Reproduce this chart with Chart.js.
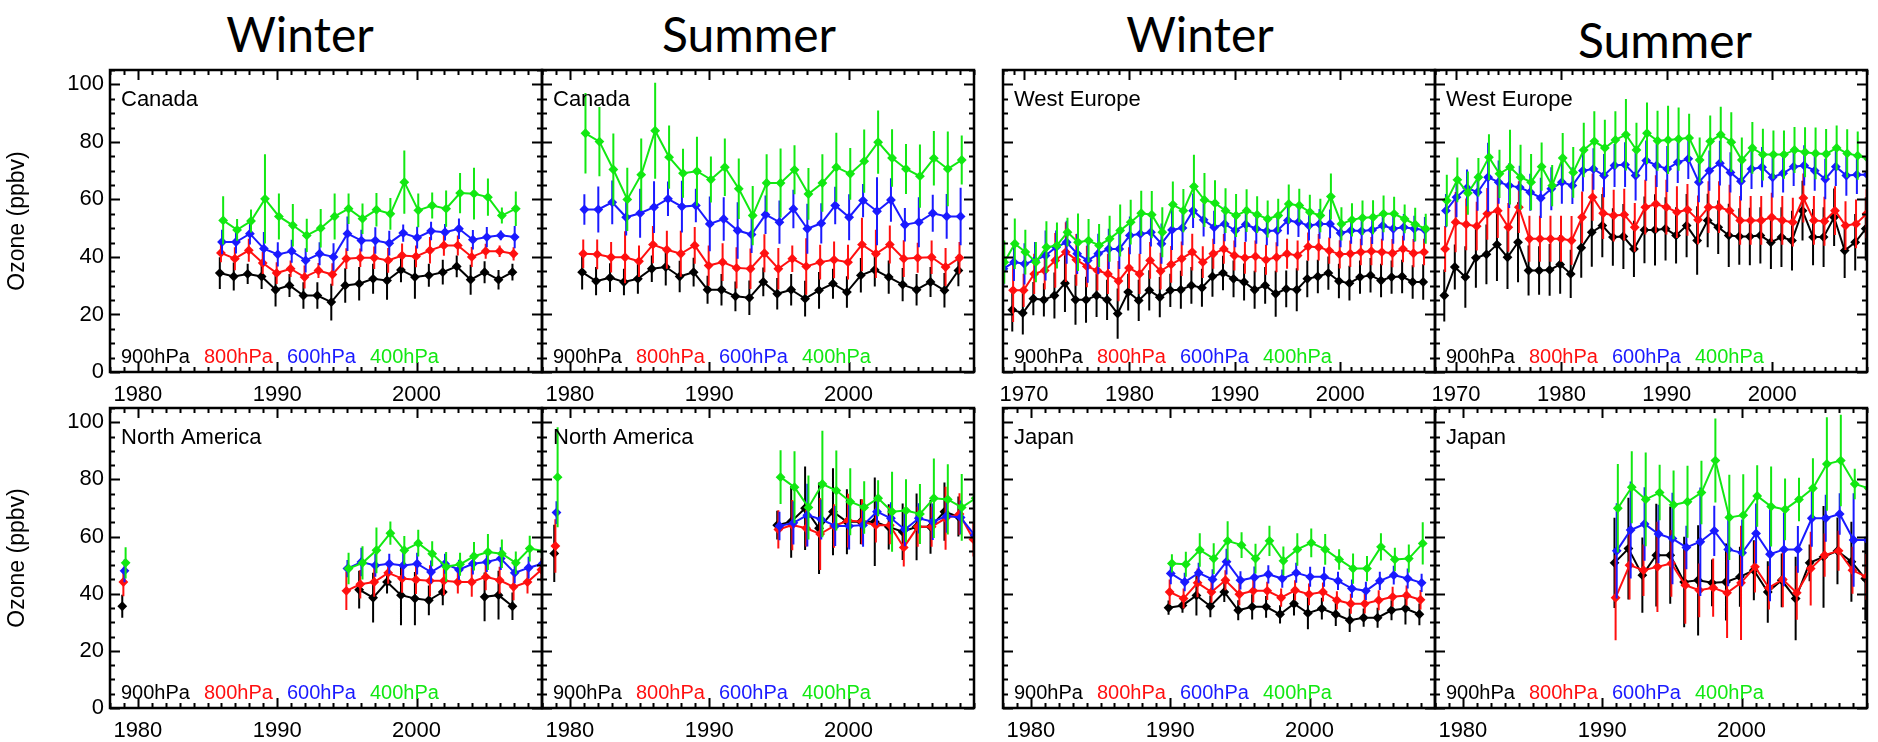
<!DOCTYPE html>
<html>
<head>
<meta charset="utf-8">
<title>Ozone trends by pressure level</title>
<script src="https://cdn.jsdelivr.net/npm/chart.js@4.4.0/dist/chart.umd.min.js"></script>
<style>
  html, body { margin: 0; padding: 0; background: #fff; }
  body { width: 1878px; height: 742px; position: relative; overflow: hidden; }
  canvas.panel { position: absolute; }
  .season { position: absolute; font-family: Lato, "Open Sans", sans-serif; font-size: 48px; line-height: 1;
            color: #000; transform: translateX(-50%); white-space: nowrap; }
</style>
</head>
<body>
<div class="season" style="left:300px; top:10px">Winter</div>
<div class="season" style="left:749px; top:10px">Summer</div>
<div class="season" style="left:1200px; top:10px">Winter</div>
<div class="season" style="left:1665px; top:16px">Summer</div>
<script>
// pressure levels, one line each
const levelNames = ['900hPa', '800hPa', '600hPa', '400hPa'];
const levelColors = ['#000000', '#ff1010', '#1a1aff', '#12e812'];

// ---- Canada, winter ----
const yearsCanadaWinter = [1986, 1987, 1988, 1989, 1990, 1991, 1992, 1993, 1994, 1995, 1996, 1997, 1998, 1999, 2000, 2001, 2002, 2003, 2004, 2005, 2006, 2007];
const canadaWinter900 = [34.4, 33.2, 34.1, 33.2, 28.6, 30.1, 26.6, 26.6, 24.3, 30.1, 30.7, 32.4, 31.8, 35.5, 33.0, 33.6, 34.7, 36.7, 32.1, 34.7, 32.1, 34.7];
const canadaWinter900Err = [5.5, 4.9, 3.5, 4.3, 5.8, 4.0, 4.6, 4.6, 6.4, 6.0, 5.8, 5.2, 6.7, 4.3, 7.5, 4.0, 4.3, 3.8, 5.2, 3.8, 3.4, 2.9];
const canadaWinter800 = [41.4, 39.4, 42.3, 37.9, 34.4, 35.9, 33.0, 35.3, 33.9, 39.4, 39.7, 39.7, 38.8, 40.5, 40.2, 42.3, 44.0, 44.0, 40.0, 42.0, 42.0, 41.1];
const canadaWinter800Err = [3.2, 4.0, 4.0, 3.8, 3.8, 2.9, 4.0, 2.6, 3.9, 3.6, 3.2, 3.9, 4.3, 4.2, 3.8, 4.6, 3.6, 3.5, 3.5, 2.6, 2.0, 2.3];
const canadaWinter600 = [45.2, 45.2, 48.1, 42.9, 40.9, 42.0, 38.8, 41.1, 40.0, 48.1, 45.7, 45.7, 44.8, 48.3, 46.7, 49.0, 48.6, 49.8, 46.0, 46.9, 47.5, 46.9];
const canadaWinter600Err = [4.3, 4.0, 3.8, 5.8, 4.2, 4.0, 4.2, 4.0, 4.8, 6.0, 3.8, 4.6, 4.3, 3.0, 3.8, 3.2, 2.9, 3.6, 3.4, 3.5, 1.7, 3.9];
const canadaWinter400 = [52.7, 49.4, 52.5, 60.2, 54.1, 51.0, 47.5, 50.0, 54.1, 56.8, 53.3, 56.4, 55.0, 66.0, 56.2, 57.9, 56.8, 62.2, 62.0, 60.8, 54.4, 56.8];
const canadaWinter400Err = [8.4, 3.8, 4.0, 15.5, 8.0, 7.4, 5.8, 6.7, 8.0, 5.3, 5.3, 5.8, 5.5, 11.0, 5.9, 4.5, 6.3, 7.0, 9.0, 6.5, 2.8, 6.0];

// ---- Canada, summer ----
const yearsCanadaSummer = [1981, 1982, 1983, 1984, 1985, 1986, 1987, 1988, 1989, 1990, 1991, 1992, 1993, 1994, 1995, 1996, 1997, 1998, 1999, 2000, 2001, 2002, 2003, 2004, 2005, 2006, 2007, 2008];
const canadaSummer900 = [34.7, 31.6, 32.8, 31.3, 32.4, 35.9, 36.5, 33.2, 34.7, 28.6, 28.6, 26.3, 25.8, 31.3, 27.2, 28.6, 25.5, 28.4, 30.7, 27.8, 33.6, 35.5, 33.0, 30.4, 28.6, 31.3, 28.4, 35.3];
const canadaSummer900Err = [6.0, 4.9, 5.0, 4.6, 5.2, 4.6, 6.4, 5.5, 5.0, 4.9, 5.5, 5.2, 6.0, 5.0, 5.5, 5.5, 6.2, 6.4, 5.2, 5.5, 6.0, 5.8, 5.8, 5.8, 5.5, 5.2, 6.0, 5.5];
const canadaSummer800 = [41.1, 40.9, 39.9, 39.9, 38.5, 44.3, 42.5, 41.1, 44.0, 37.0, 38.2, 36.2, 35.9, 41.3, 35.9, 39.4, 36.7, 38.2, 39.0, 38.2, 44.3, 41.1, 44.3, 39.4, 39.7, 39.9, 36.5, 39.7];
const canadaSummer800Err = [5.0, 5.2, 5.3, 9.0, 5.5, 6.5, 6.6, 8.0, 6.4, 7.0, 6.6, 7.2, 7.0, 6.6, 7.2, 4.6, 9.8, 6.0, 6.4, 6.0, 9.3, 8.4, 6.6, 6.4, 5.2, 5.8, 6.6, 5.5];
const canadaSummer600 = [56.5, 56.5, 59.0, 53.8, 55.2, 57.3, 60.2, 57.5, 57.9, 51.5, 53.2, 49.2, 47.8, 54.7, 52.1, 56.7, 49.8, 51.7, 57.9, 53.8, 59.6, 55.9, 59.8, 51.2, 52.1, 55.2, 54.1, 54.1];
const canadaSummer600Err = [5.3, 8.0, 7.6, 6.3, 8.5, 9.0, 6.0, 9.0, 5.8, 9.5, 7.6, 9.8, 6.4, 6.7, 7.5, 6.7, 8.7, 7.0, 6.5, 8.0, 5.8, 11.8, 7.6, 5.8, 8.7, 6.4, 7.8, 10.0];
const canadaSummer400 = [83.0, 80.1, 70.4, 60.0, 68.6, 83.9, 74.7, 69.1, 69.8, 66.9, 71.2, 63.7, 54.4, 65.7, 65.7, 70.3, 61.9, 65.7, 71.2, 68.9, 73.3, 79.9, 74.4, 70.6, 68.1, 74.3, 70.6, 73.7];
const canadaSummer400Err = [14.0, 12.0, 12.5, 11.0, 12.6, 16.7, 11.0, 8.5, 12.0, 8.0, 10.0, 10.5, 10.3, 10.0, 12.0, 8.5, 9.0, 10.0, 12.0, 9.0, 11.0, 11.0, 10.0, 8.7, 11.0, 9.5, 13.0, 8.5];

// ---- West Europe, winter ----
const yearsEuropeWinter = [1968, 1969, 1970, 1971, 1972, 1973, 1974, 1975, 1976, 1977, 1978, 1979, 1980, 1981, 1982, 1983, 1984, 1985, 1986, 1987, 1988, 1989, 1990, 1991, 1992, 1993, 1994, 1995, 1996, 1997, 1998, 1999, 2000, 2001, 2002, 2003, 2004, 2005, 2006, 2007, 2008];
const europeWinter900 = [null, 21.6, 20.5, 25.5, 25.1, 26.6, 30.9, 25.1, 25.1, 26.6, 25.1, 20.3, 27.8, 24.9, 28.4, 26.0, 28.4, 28.6, 30.1, 29.3, 33.2, 34.4, 32.4, 31.3, 28.6, 30.1, 27.2, 28.9, 28.6, 32.4, 33.2, 34.4, 31.6, 30.9, 33.0, 33.6, 31.8, 33.0, 33.2, 31.3, 31.3];
const europeWinter900Err = [null, 7.5, 7.5, 5.8, 5.8, 8.0, 10.0, 8.7, 8.0, 7.5, 7.0, 8.7, 6.4, 7.2, 7.0, 7.0, 5.8, 6.6, 6.4, 6.6, 7.0, 6.0, 6.4, 6.4, 6.6, 6.4, 8.0, 6.4, 7.5, 6.4, 5.8, 5.8, 6.0, 6.0, 5.8, 6.0, 5.8, 5.8, 5.8, 5.8, 6.2];
const europeWinter800 = [null, 28.4, 28.4, 34.1, 35.3, 38.8, 41.7, 39.0, 36.7, 35.3, 34.1, 31.6, 36.2, 34.1, 38.8, 35.1, 37.4, 39.4, 41.7, 38.2, 41.1, 42.8, 40.5, 39.7, 40.2, 39.0, 39.9, 41.1, 40.5, 43.6, 43.4, 42.2, 40.9, 41.1, 41.7, 42.0, 41.7, 41.3, 42.8, 41.3, 41.7];
const europeWinter800Err = [null, 11.0, 5.8, 7.0, 6.6, 9.5, 10.4, 9.0, 7.2, 7.0, 7.0, 7.0, 7.2, 7.0, 6.4, 6.4, 6.4, 6.0, 6.4, 5.5, 5.2, 5.2, 5.2, 5.5, 5.5, 5.2, 5.2, 5.2, 5.2, 4.9, 4.6, 4.6, 4.9, 4.6, 4.6, 4.9, 4.6, 4.9, 4.6, 4.9, 4.6];
const europeWinter600 = [35.9, 38.2, 37.6, 38.8, 40.5, 43.4, 45.1, 41.1, 38.8, 41.1, 42.8, 42.8, 47.5, 48.0, 48.6, 44.6, 49.4, 50.1, 56.1, 52.9, 50.3, 51.5, 49.2, 51.3, 49.8, 49.0, 49.2, 52.7, 52.1, 50.9, 51.5, 51.5, 48.3, 49.2, 49.0, 49.4, 50.9, 49.8, 50.3, 49.8, 49.4];
const europeWinter600Err = [5.8, 6.6, 7.2, 6.4, 8.7, 5.8, 7.5, 7.0, 7.8, 7.0, 7.0, 7.0, 6.6, 7.0, 5.0, 7.0, 7.0, 6.0, 6.0, 5.8, 5.8, 6.0, 5.8, 6.0, 5.2, 4.9, 5.5, 4.9, 5.2, 5.2, 5.2, 5.0, 4.9, 4.6, 4.9, 4.9, 5.2, 5.2, 4.6, 4.5, 4.5];
const europeWinter400 = [38.2, 44.6, 41.7, 38.2, 43.4, 44.0, 48.6, 45.1, 45.7, 44.0, 46.3, 49.2, 52.1, 55.2, 54.7, 48.6, 58.2, 56.1, 64.5, 59.8, 58.7, 56.1, 54.4, 56.1, 54.7, 53.2, 54.4, 58.4, 57.9, 55.6, 54.4, 61.0, 51.5, 52.9, 53.6, 53.8, 55.0, 55.0, 53.2, 51.3, 49.8];
const europeWinter400Err = [7.5, 8.8, 7.8, 7.0, 9.0, 8.0, 5.0, 10.0, 7.5, 7.5, 8.0, 9.0, 7.8, 7.8, 8.2, 8.7, 8.0, 7.5, 11.0, 9.4, 8.0, 7.8, 7.5, 7.4, 6.4, 6.4, 5.8, 6.8, 5.8, 6.0, 5.8, 8.0, 5.8, 5.8, 6.0, 5.9, 6.4, 5.9, 5.0, 5.8, 5.2];

// ---- West Europe, summer ----
const yearsEuropeSummer = [1969, 1970, 1971, 1972, 1973, 1974, 1975, 1976, 1977, 1978, 1979, 1980, 1981, 1982, 1983, 1984, 1985, 1986, 1987, 1988, 1989, 1990, 1991, 1992, 1993, 1994, 1995, 1996, 1997, 1998, 1999, 2000, 2001, 2002, 2003, 2004, 2005, 2006, 2007, 2008, 2009];
const europeSummer900 = [26.6, 36.5, 33.0, 39.7, 40.9, 44.3, 39.9, 45.1, 35.3, 35.3, 35.5, 37.4, 34.1, 43.2, 48.6, 50.9, 46.9, 47.1, 42.8, 49.4, 49.4, 49.8, 47.5, 50.9, 45.7, 52.7, 50.3, 47.5, 47.1, 47.1, 47.5, 45.1, 46.9, 45.7, 56.1, 46.9, 46.9, 53.8, 42.2, 45.1, 49.8];
const europeSummer900Err = [9.0, 7.8, 10.7, 10.4, 10.4, 12.7, 11.0, 13.9, 8.7, 8.4, 9.0, 10.2, 8.4, 10.4, 12.0, 11.0, 10.0, 11.3, 9.8, 11.6, 12.4, 11.0, 9.8, 11.0, 11.9, 9.3, 9.3, 11.0, 9.8, 10.0, 9.8, 9.3, 10.4, 10.4, 10.4, 9.8, 10.4, 10.0, 9.5, 9.8, 11.0];
const europeSummer800 = [42.8, 52.1, 51.3, 50.7, 55.0, 56.1, 50.3, 57.3, 46.3, 46.3, 46.3, 46.3, 45.7, 53.8, 60.8, 55.2, 54.4, 54.7, 50.3, 57.3, 58.4, 57.3, 55.6, 56.4, 52.9, 57.3, 57.3, 56.1, 52.7, 52.7, 52.7, 53.8, 52.7, 52.1, 60.5, 52.7, 52.4, 56.1, 50.9, 51.5, 55.0];
const europeSummer800Err = [8.0, 10.5, 9.0, 8.5, 9.0, 9.5, 8.5, 9.0, 8.0, 8.0, 8.0, 8.0, 8.5, 9.0, 8.2, 9.0, 9.0, 9.0, 8.5, 9.5, 10.0, 9.5, 9.0, 9.0, 8.5, 9.0, 9.0, 9.0, 8.5, 8.5, 8.5, 8.5, 8.5, 8.5, 8.5, 8.5, 8.5, 8.5, 8.5, 8.5, 8.5];
const europeSummer600 = [56.1, 60.8, 64.0, 62.5, 67.7, 66.0, 64.8, 64.2, 62.5, 60.5, 63.7, 66.0, 64.8, 70.0, 70.6, 68.3, 71.8, 72.1, 68.3, 73.5, 71.8, 70.6, 72.9, 74.1, 66.0, 70.0, 72.6, 69.4, 66.3, 70.6, 71.2, 67.7, 69.1, 71.4, 71.8, 70.0, 67.1, 71.4, 68.3, 68.6, 68.6];
const europeSummer600Err = [5.8, 7.0, 6.4, 6.4, 12.0, 7.5, 7.8, 7.5, 6.4, 7.0, 7.5, 7.5, 6.4, 7.2, 7.2, 7.5, 7.5, 7.8, 8.7, 7.0, 7.5, 8.0, 7.2, 7.0, 7.0, 7.0, 7.8, 7.0, 6.7, 7.0, 7.0, 7.0, 6.7, 6.7, 7.0, 7.0, 7.0, 6.7, 7.0, 6.7, 6.7];
const europeSummer400 = [59.6, 66.8, 62.2, 67.7, 74.7, 68.9, 71.2, 67.7, 66.0, 71.4, 64.8, 74.4, 69.4, 77.2, 80.2, 77.9, 80.7, 82.5, 77.2, 83.0, 80.4, 80.7, 81.0, 81.4, 73.7, 80.2, 82.5, 79.9, 73.7, 77.9, 75.6, 75.6, 75.6, 77.2, 76.4, 76.0, 75.8, 77.9, 76.0, 75.2, 74.1];
const europeSummer400Err = [9.0, 7.8, 7.5, 6.7, 8.0, 8.4, 13.0, 11.3, 9.8, 8.4, 7.2, 8.7, 8.8, 9.5, 10.5, 9.8, 10.0, 12.4, 9.5, 10.7, 10.4, 11.9, 11.0, 8.4, 7.8, 9.0, 9.7, 10.4, 7.8, 9.0, 9.0, 8.4, 8.4, 8.0, 8.7, 9.0, 8.7, 7.8, 8.4, 8.4, 8.0];

// ---- North America, winter ----
const yearsAmericaWinter = [1979, 1995, 1996, 1997, 1998, 1999, 2000, 2001, 2002, 2003, 2004, 2005, 2006, 2007, 2008, 2009];
const americaWinter900 = [35.6, null, 41.4, 38.6, 44.1, 39.5, 38.3, 37.7, 40.6, null, null, 38.9, 39.5, 35.6, null, null];
const americaWinter900Err = [4.0, null, 6.6, 8.7, 4.0, 10.5, 9.3, 5.2, 4.6, null, null, 8.5, 8.5, 4.8, null, null];
const americaWinter800 = [44.1, 41.0, 43.3, 44.1, 47.3, 45.3, 44.9, 44.5, 44.5, 44.1, 44.1, 45.9, 44.7, 42.4, 44.1, 48.4];
const americaWinter800Err = [5.0, 6.7, 5.0, 5.2, 3.8, 5.0, 5.0, 5.5, 5.0, 4.0, 5.2, 4.7, 4.7, 4.7, 4.0, 4.0];
const americaWinter600 = [48.0, 48.8, 51.1, 49.9, 50.5, 49.9, 50.5, 47.6, 50.5, 48.4, 50.5, 51.1, 52.3, 47.3, 49.1, 50.5];
const americaWinter600Err = [4.0, 3.0, 5.0, 4.0, 3.5, 4.7, 3.8, 4.0, 3.5, 3.5, 3.8, 3.5, 4.0, 3.6, 3.8, 3.5];
const americaWinter400 = [50.8, 48.8, 50.8, 55.2, 61.2, 55.2, 57.7, 54.0, 49.4, 50.3, 53.1, 54.6, 54.0, 50.8, 55.8, 54.9];
const americaWinter400Err = [5.5, 5.5, 5.8, 8.0, 4.1, 5.0, 4.7, 4.4, 5.2, 4.0, 5.0, 6.3, 5.0, 4.0, 4.5, 4.5];

// ---- North America, summer ----
const yearsAmericaSummer = [1979, 1995, 1996, 1997, 1998, 1999, 2000, 2001, 2002, 2003, 2004, 2005, 2006, 2007, 2008, 2009];
const americaSummer900 = [54.1, 64.0, 65.2, 69.9, 62.9, 68.7, 65.2, 65.2, 65.2, 63.4, 61.7, 63.4, 63.4, 68.7, 67.0, null];
const americaSummer900Err = [10.0, 5.0, 12.6, 14.6, 16.0, 15.2, 11.4, 7.9, 15.5, 7.9, 9.9, 11.7, 9.4, 10.2, 7.0, null];
const americaSummer800 = [56.7, 62.5, 64.0, 62.9, 60.9, 63.7, 65.6, 65.2, 64.0, 64.0, 56.2, 63.4, 63.4, 66.4, 67.9, 59.0];
const americaSummer800Err = [9.4, 6.7, 8.8, 6.4, 12.6, 7.6, 9.4, 7.9, 6.1, 6.7, 6.7, 7.0, 7.0, 11.0, 7.3, 6.0];
const americaSummer600 = [68.4, 63.7, 64.8, 67.5, 66.0, 63.7, 63.7, 64.0, 68.7, 66.4, 62.5, 66.4, 65.2, 67.2, 66.7, 60.5];
const americaSummer600Err = [4.0, 5.0, 7.6, 11.0, 7.0, 7.0, 8.2, 7.6, 4.7, 5.6, 5.9, 5.3, 6.4, 5.9, 5.9, 5.0];
const americaSummer400 = [80.8, 80.8, 77.3, 70.2, 78.4, 76.1, 72.2, 70.2, 73.4, 68.7, 69.1, 67.9, 73.4, 73.0, 70.2, 73.4];
const americaSummer400Err = [17.5, 9.4, 12.6, 11.2, 18.6, 14.0, 11.7, 9.2, 6.3, 14.0, 11.0, 10.5, 13.9, 12.3, 11.7, 8.0];

// ---- Japan, winter ----
const yearsJapanWinter = [1990, 1991, 1992, 1993, 1994, 1995, 1996, 1997, 1998, 1999, 2000, 2001, 2002, 2003, 2004, 2005, 2006, 2007, 2008];
const japanWinter900 = [35.1, 35.9, 39.4, 35.6, 40.6, 34.2, 35.4, 35.4, 32.8, 36.5, 33.2, 34.8, 32.8, 30.7, 31.6, 31.6, 34.2, 34.8, 32.8];
const japanWinter900Err = [2.5, 2.6, 7.0, 3.8, 3.5, 3.5, 4.4, 3.8, 3.2, 4.1, 5.6, 3.8, 4.1, 4.1, 3.2, 3.5, 3.5, 5.6, 3.8];
const japanWinter800 = [40.6, 38.3, 43.8, 40.6, 44.7, 39.8, 41.0, 41.0, 38.6, 41.2, 39.8, 40.6, 37.7, 36.5, 36.5, 37.7, 38.9, 39.4, 37.9];
const japanWinter800Err = [4.4, 3.5, 5.0, 3.8, 3.5, 3.8, 4.1, 3.2, 3.2, 3.5, 3.8, 3.3, 3.2, 3.5, 3.4, 3.5, 3.5, 3.5, 3.4];
const japanWinter600 = [47.1, 44.1, 47.3, 45.0, 51.2, 44.7, 45.7, 46.8, 45.3, 47.3, 45.9, 45.9, 44.5, 41.8, 41.0, 44.5, 46.5, 45.3, 43.8];
const japanWinter600Err = [3.8, 3.2, 3.5, 3.6, 4.5, 3.2, 3.8, 3.2, 3.2, 3.5, 3.5, 3.5, 3.2, 3.2, 3.2, 3.2, 3.3, 3.5, 3.2];
const japanWinter400 = [50.6, 50.3, 55.3, 52.3, 58.5, 57.0, 52.3, 58.5, 51.5, 55.5, 57.8, 55.5, 52.0, 48.8, 48.8, 56.4, 52.0, 52.3, 57.6];
const japanWinter400Err = [3.2, 4.4, 5.9, 5.4, 6.9, 4.5, 5.2, 5.3, 5.0, 5.7, 5.0, 5.4, 3.6, 5.3, 4.4, 4.8, 4.1, 4.9, 7.4];

// ---- Japan, summer ----
const yearsJapanSummer = [1991, 1992, 1993, 1994, 1995, 1996, 1997, 1998, 1999, 2000, 2001, 2002, 2003, 2004, 2005, 2006, 2007, 2008, 2009];
const japanSummer900 = [50.8, 55.8, 46.5, 53.5, 53.5, 44.1, 44.7, 43.8, 44.1, 45.9, 48.2, 40.6, 44.7, 38.3, 50.8, 52.9, 55.0, 51.2, 45.3];
const japanSummer900Err = [15.8, 17.8, 13.2, 18.0, 17.0, 15.8, 19.3, 8.2, 13.5, 10.5, 10.5, 10.8, 9.4, 14.6, 6.4, 17.8, 11.7, 14.0, 14.6];
const japanSummer800 = [38.6, 50.0, 48.2, 49.4, 50.6, 43.0, 41.2, 42.1, 40.3, 43.8, 49.4, 42.1, 45.0, 40.3, 48.8, 53.5, 55.0, 48.2, 45.9];
const japanSummer800Err = [14.9, 12.0, 9.0, 15.8, 11.7, 13.5, 9.4, 10.2, 15.8, 20.0, 9.0, 7.6, 9.7, 9.4, 12.9, 7.6, 7.0, 8.2, 8.0];
const japanSummer600 = [55.0, 62.3, 64.4, 60.9, 59.3, 56.2, 58.2, 62.0, 55.5, 54.3, 61.1, 53.8, 55.5, 55.5, 66.4, 66.4, 67.9, 58.8, 58.8];
const japanSummer600Err = [16.7, 17.0, 12.9, 10.2, 16.0, 7.6, 19.0, 8.8, 12.9, 11.7, 10.5, 16.4, 12.9, 8.2, 10.0, 8.2, 7.3, 16.4, 10.0];
const japanSummer400 = [69.9, 77.3, 73.0, 75.4, 71.1, 72.2, 75.4, 86.6, 66.7, 67.5, 74.2, 70.5, 69.5, 73.0, 76.9, 85.4, 86.6, 78.4, 76.9];
const japanSummer400Err = [15.5, 12.6, 16.4, 9.7, 12.0, 12.6, 11.1, 14.7, 14.9, 14.3, 10.8, 14.0, 10.8, 7.6, 10.5, 16.4, 16.0, 5.3, 6.0];

// axis ranges
const ozoneRange = [0, 105];
const yearRangeShort = [1978, 2009];
const yearRangeLong = [1968, 2009];

// page layout of the 2 x 4 grid of boxes (px)
const colLeft = [110, 542, 1003, 1435];
const colRight = [542, 974, 1435, 1867];
const rowTop = [70, 408];
const rowBottom = [372, 708];
const levelShift = [-0.12, -0.04, 0.04, 0.12]; // small x jitter so bars don't sit on top of each other
const PAD = 30, Y_AXIS_W = 110, X_AXIS_H = 40;
const FONT = '"Liberation Sans", Arial, Helvetica, sans-serif';

const panels = [
  { region: 'Canada', col: 0, row: 0, range: yearRangeShort, years: yearsCanadaWinter,
    levels: [[canadaWinter900, canadaWinter900Err], [canadaWinter800, canadaWinter800Err], [canadaWinter600, canadaWinter600Err], [canadaWinter400, canadaWinter400Err]] },
  { region: 'Canada', col: 1, row: 0, range: yearRangeShort, years: yearsCanadaSummer,
    levels: [[canadaSummer900, canadaSummer900Err], [canadaSummer800, canadaSummer800Err], [canadaSummer600, canadaSummer600Err], [canadaSummer400, canadaSummer400Err]] },
  { region: 'West Europe', col: 2, row: 0, range: yearRangeLong, years: yearsEuropeWinter,
    levels: [[europeWinter900, europeWinter900Err], [europeWinter800, europeWinter800Err], [europeWinter600, europeWinter600Err], [europeWinter400, europeWinter400Err]] },
  { region: 'West Europe', col: 3, row: 0, range: yearRangeLong, years: yearsEuropeSummer,
    levels: [[europeSummer900, europeSummer900Err], [europeSummer800, europeSummer800Err], [europeSummer600, europeSummer600Err], [europeSummer400, europeSummer400Err]] },
  { region: 'North America', col: 0, row: 1, range: yearRangeShort, years: yearsAmericaWinter,
    levels: [[americaWinter900, americaWinter900Err], [americaWinter800, americaWinter800Err], [americaWinter600, americaWinter600Err], [americaWinter400, americaWinter400Err]] },
  { region: 'North America', col: 1, row: 1, range: yearRangeShort, years: yearsAmericaSummer,
    levels: [[americaSummer900, americaSummer900Err], [americaSummer800, americaSummer800Err], [americaSummer600, americaSummer600Err], [americaSummer400, americaSummer400Err]] },
  { region: 'Japan', col: 2, row: 1, range: yearRangeShort, years: yearsJapanWinter,
    levels: [[japanWinter900, japanWinter900Err], [japanWinter800, japanWinter800Err], [japanWinter600, japanWinter600Err], [japanWinter400, japanWinter400Err]] },
  { region: 'Japan', col: 3, row: 1, range: yearRangeShort, years: yearsJapanSummer,
    levels: [[japanSummer900, japanSummer900Err], [japanSummer800, japanSummer800Err], [japanSummer600, japanSummer600Err], [japanSummer400, japanSummer400Err]] }
];

// vertical error bars, drawn just before each line so later levels sit on top
const errorBars = {
  id: 'errorBars',
  beforeDatasetDraw(chart, args) {
    const ds = chart.data.datasets[args.index];
    if (!ds.errors) return;
    const { ctx, chartArea: a, scales: { y } } = chart;
    ctx.save();
    ctx.beginPath();
    ctx.rect(a.left, a.top, a.right - a.left, a.bottom - a.top);
    ctx.clip();
    ctx.strokeStyle = ds.borderColor;
    ctx.lineWidth = 2;
    ctx.beginPath();
    args.meta.data.forEach((pt, i) => {
      const v = ds.data[i].y, e = ds.errors[i];
      if (v == null || e == null) return;
      ctx.moveTo(pt.x, y.getPixelForValue(v - e));
      ctx.lineTo(pt.x, y.getPixelForValue(v + e));
    });
    ctx.stroke();
    ctx.restore();
  }
};

// closed box with inward tick marks on all four sides
const frameTicks = {
  id: 'frameTicks',
  afterDatasetsDraw(chart) {
    const { ctx, chartArea: a, scales: { x, y } } = chart;
    ctx.save();
    ctx.strokeStyle = '#000';
    ctx.lineWidth = 2;
    ctx.beginPath();
    for (let yr = Math.ceil(x.min); yr <= x.max; yr++) {
      const px = Math.round(x.getPixelForValue(yr)) + 0.5;
      const len = yr % 10 === 0 ? 10 : 5;
      ctx.moveTo(px, a.bottom); ctx.lineTo(px, a.bottom - len);
      ctx.moveTo(px, a.top); ctx.lineTo(px, a.top + len);
    }
    for (let v = y.min; v <= y.max; v += 5) {
      const py = Math.round(y.getPixelForValue(v)) + 0.5;
      const len = v % 20 === 0 ? 10 : 5;
      ctx.moveTo(a.left, py); ctx.lineTo(a.left + len, py);
      ctx.moveTo(a.right, py); ctx.lineTo(a.right - len, py);
    }
    ctx.stroke();
    ctx.lineWidth = 2.5;
    ctx.strokeRect(a.left, a.top, a.right - a.left, a.bottom - a.top);
    ctx.restore();
  }
};

// region name in the top-left corner, coloured level key along the bottom
const panelText = {
  id: 'panelText',
  afterDraw(chart, args, opts) {
    const { ctx, chartArea: a } = chart;
    ctx.save();
    ctx.textBaseline = 'alphabetic';
    ctx.textAlign = 'left';
    ctx.fillStyle = '#000';
    ctx.font = '22px ' + FONT;
    ctx.fillText(opts.region, a.left + 11, a.top + 36);
    ctx.font = '20px ' + FONT;
    levelNames.forEach((name, i) => {
      ctx.fillStyle = levelColors[i];
      ctx.fillText(name, a.left + 11 + i * 83, a.bottom - 9);
    });
    ctx.restore();
  }
};

function buildDatasets(p) {
  return p.levels.map(([vals, errs], i) => ({
    label: levelNames[i],
    data: p.years.map((yr, k) => ({ x: yr + levelShift[i], y: vals[k] })),
    errors: errs,
    borderColor: levelColors[i],
    backgroundColor: levelColors[i],
    borderWidth: 2,
    pointRadius: 3.5,
    pointStyle: 'rectRot',
    showLine: true,
    spanGaps: false,
    order: 4 - i,
    // no line across multi-year holes in the record
    segment: { borderColor: c => (c.p1.parsed.x - c.p0.parsed.x > 1.5 ? 'rgba(0,0,0,0)' : undefined) }
  }));
}

panels.forEach(p => {
  const withY = p.col === 0;
  const yW = withY ? Y_AXIS_W : 0;
  const L = colLeft[p.col], R = colRight[p.col], T = rowTop[p.row], B = rowBottom[p.row];
  const canvas = document.createElement('canvas');
  canvas.className = 'panel';
  canvas.width = PAD + yW + (R - L) + PAD;
  canvas.height = PAD + (B - T) + X_AXIS_H;
  canvas.style.left = (L - yW - PAD) + 'px';
  canvas.style.top = (T - PAD) + 'px';
  document.body.appendChild(canvas);

  const yScale = {
    min: ozoneRange[0],
    max: ozoneRange[1],
    display: withY,
    grid: { display: false, drawTicks: false },
    border: { display: false },
    ticks: {
      stepSize: 20, includeBounds: false, padding: 6,
      color: '#000', font: { family: FONT, size: 22 }
    },
    title: {
      display: true, text: 'Ozone (ppbv)', color: '#000',
      font: { family: FONT, size: 23 }, padding: { top: 4, bottom: 0 }
    }
  };
  if (withY) yScale.afterFit = s => { s.width = Y_AXIS_W; };

  new Chart(canvas, {
    type: 'scatter',
    data: { datasets: buildDatasets(p) },
    options: {
      responsive: false,
      animation: false,
      devicePixelRatio: 1,
      layout: { padding: { left: PAD, right: PAD, top: PAD, bottom: 0 } },
      plugins: {
        legend: { display: false },
        tooltip: { enabled: false },
        panelText: { region: p.region }
      },
      scales: {
        x: {
          type: 'linear',
          min: p.range[0],
          max: p.range[1],
          grid: { display: false, drawTicks: false },
          border: { display: false },
          afterFit: s => { s.height = X_AXIS_H; },
          ticks: {
            stepSize: 10, includeBounds: false, autoSkip: false, maxRotation: 0,
            padding: 10, color: '#000', font: { family: FONT, size: 22 },
            callback: v => String(v)
          }
        },
        y: yScale
      }
    },
    plugins: [errorBars, frameTicks, panelText]
  });
});
</script>
</body>
</html>
